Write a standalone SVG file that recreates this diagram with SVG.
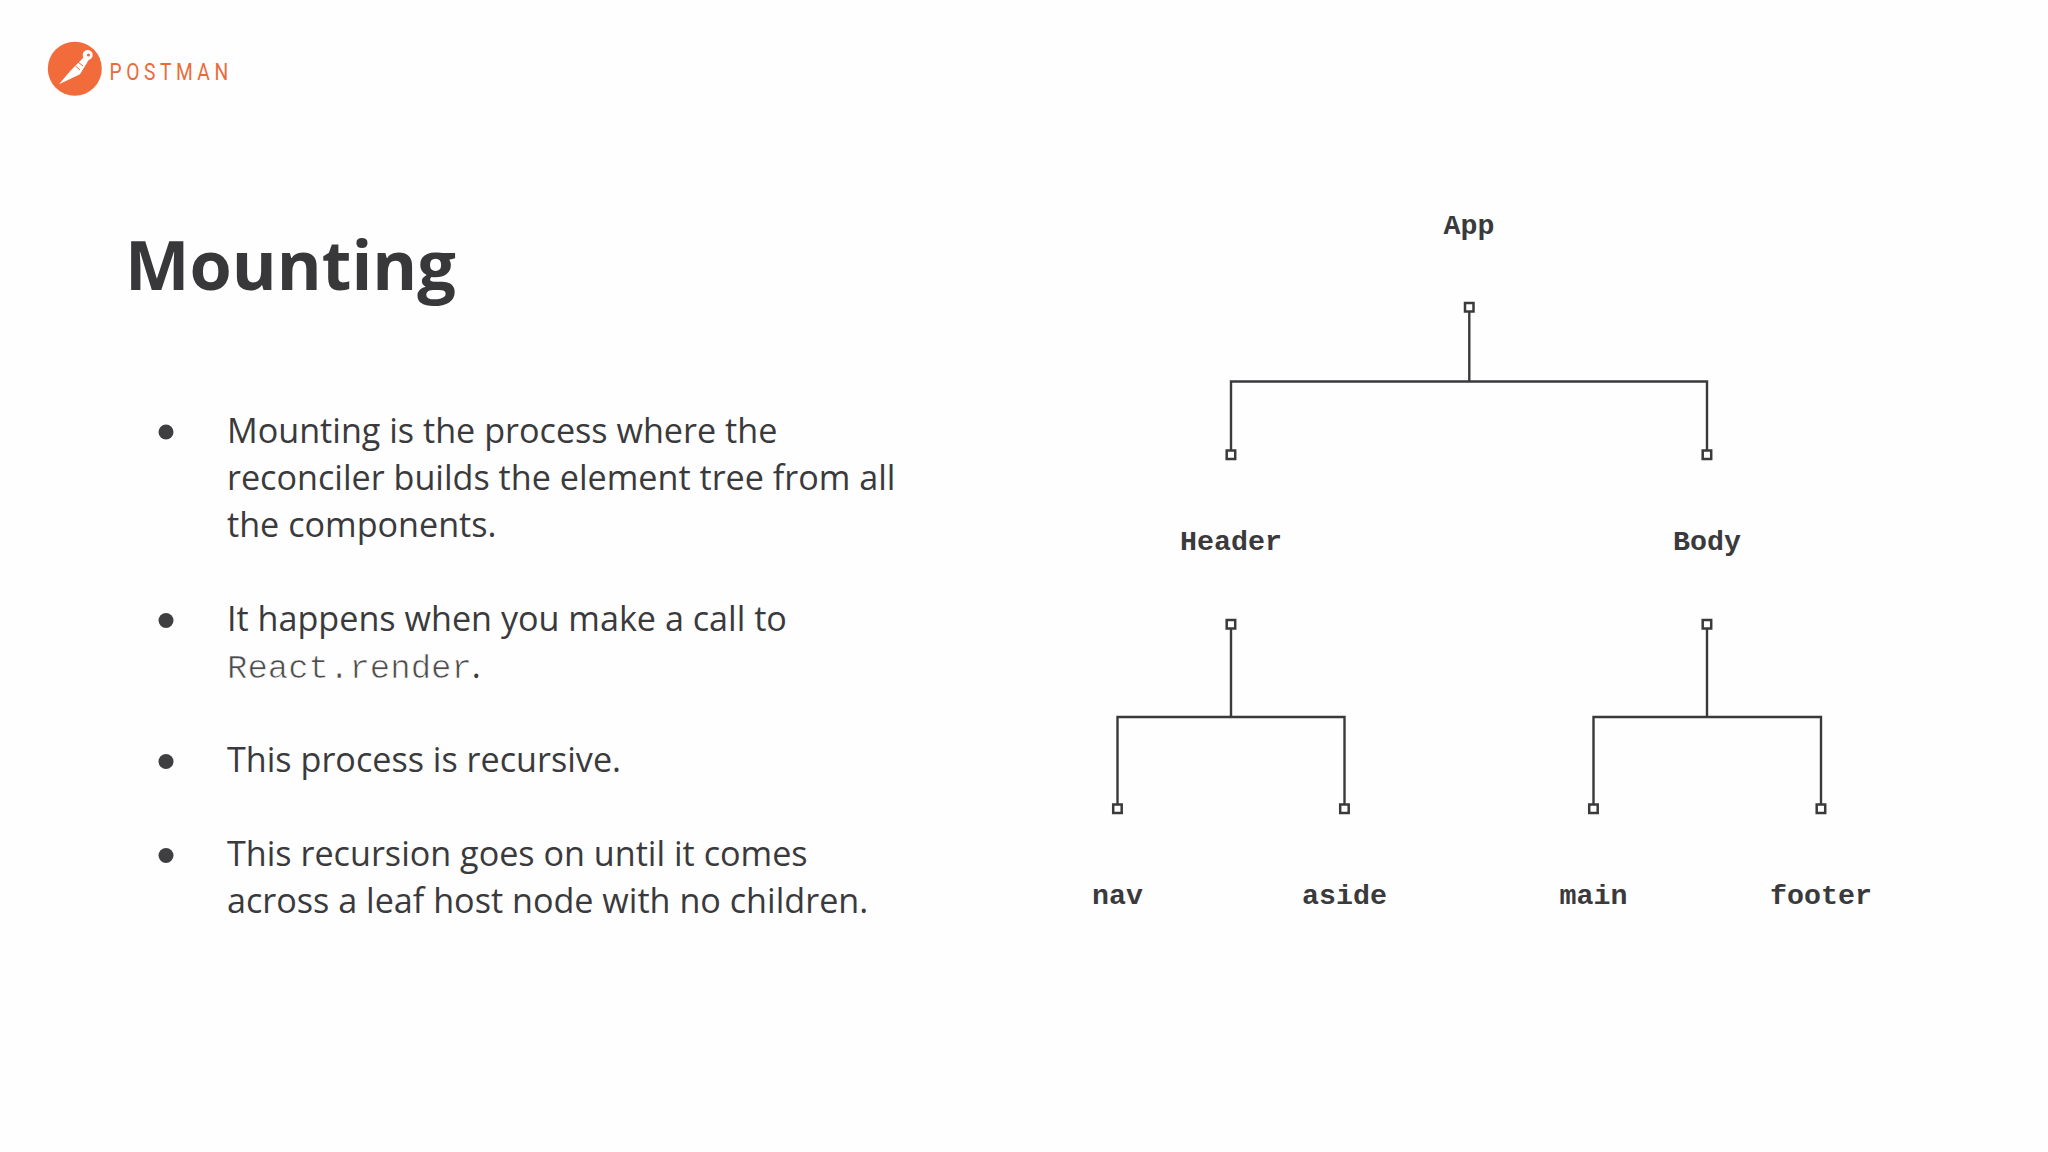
<svg xmlns="http://www.w3.org/2000/svg" width="2048" height="1152" viewBox="0 0 2048 1152">
<style>
.body{font-family:"Open Sans","Noto Sans",sans-serif;font-size:34.15px;font-weight:400;fill:#3a3a3d}
.code{font-family:"Liberation Mono",monospace;font-size:34px;fill:#4a4a4a;stroke:#fefefe;stroke-width:.7px}
.lbl{font-family:"Liberation Mono",monospace;font-size:28.3px;font-weight:700;fill:#3a3a3c;text-anchor:middle}
.sq{fill:#fff;stroke:#3a3a3c;stroke-width:2.5}
.wire{fill:none;stroke:#3a3a3c;stroke-width:2.4}
.dot{fill:#3f3f41}
</style>
<rect width="2048" height="1152" fill="#fefefe"/>
<g id="logo">
<circle cx="74.8" cy="68.7" r="27" fill="#f26b3a"/>
<path d="M84.3 56.7L89.3 59L80 74.3L71.7 78.3L59 84.3L68.3 73.3L73.3 67.7Z" fill="#fff"/>
<path d="M78 62L83 66M75.5 66L80 70" stroke="#f26b3a" stroke-width="1" fill="none"/>
<circle cx="87.7" cy="55" r="5" fill="#fff"/>
<circle cx="88.5" cy="55" r="1.6" fill="#f26b3a"/>
<text transform="translate(109.5 80) scale(.8 1)" font-family="Roboto,'Liberation Sans',sans-serif" font-size="24" letter-spacing="5.7" fill="#ec6a3a">POSTMAN</text>
</g>
<text id="title" x="125" y="290" font-family="'Open Sans','Noto Sans',sans-serif" font-size="68.4" font-weight="700" fill="#38383a">Mounting</text>
<g id="bullets">
<circle class="dot" cx="166" cy="432" r="7.5"/>
<circle class="dot" cx="166" cy="620.5" r="7.5"/>
<circle class="dot" cx="166" cy="761.5" r="7.5"/>
<circle class="dot" cx="166" cy="855.5" r="7.5"/>
<text class="body" x="227" y="443">Mounting is the process where the</text>
<text class="body" x="227" y="490">reconciler builds the element tree from all</text>
<text class="body" x="227" y="537">the components.</text>
<text class="body" x="227" y="631">It happens when you make a call to</text>
<text class="body" x="227" y="678"><tspan class="code">React.render</tspan>.</text>
<text class="body" x="227" y="772">This process is recursive.</text>
<text class="body" x="227" y="866">This recursion goes on until it comes</text>
<text class="body" x="227" y="913">across a leaf host node with no children.</text>
</g>
<g id="connectors">
<path class="wire" d="M1469.3 307V381.5M1231 454V381.5H1707V454"/>
<path class="wire" d="M1231 624V717M1117.5 808V717H1344.5V808"/>
<path class="wire" d="M1707 624V717M1593.5 808V717H1821V808"/>
</g>
<g id="node-app"><rect class="sq" x="1465" y="303" width="8.5" height="8.5"/><text class="lbl" x="1469" y="234">App</text></g>
<g id="node-header"><rect class="sq" x="1226.7" y="450.5" width="8.5" height="8.5"/><rect class="sq" x="1226.7" y="620" width="8.5" height="8.5"/><text class="lbl" x="1231" y="550">Header</text></g>
<g id="node-body"><rect class="sq" x="1702.7" y="450.5" width="8.5" height="8.5"/><rect class="sq" x="1702.7" y="620" width="8.5" height="8.5"/><text class="lbl" x="1707" y="550">Body</text></g>
<g id="node-nav"><rect class="sq" x="1113.2" y="804.5" width="8.5" height="8.5"/><text class="lbl" x="1117.5" y="904">nav</text></g>
<g id="node-aside"><rect class="sq" x="1340.2" y="804.5" width="8.5" height="8.5"/><text class="lbl" x="1344.5" y="904">aside</text></g>
<g id="node-main"><rect class="sq" x="1589.2" y="804.5" width="8.5" height="8.5"/><text class="lbl" x="1593.5" y="904">main</text></g>
<g id="node-footer"><rect class="sq" x="1816.7" y="804.5" width="8.5" height="8.5"/><text class="lbl" x="1821" y="904">footer</text></g>
</svg>
